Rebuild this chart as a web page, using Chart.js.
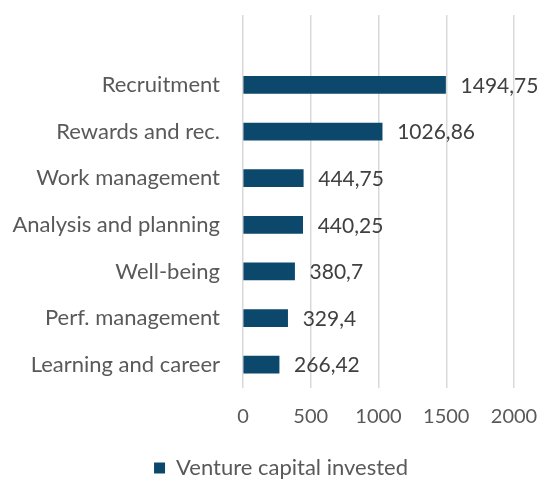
<!DOCTYPE html>
<html>
<head>
<meta charset="utf-8">
<script src="https://cdn.jsdelivr.net/npm/chart.js@4.4.1/dist/chart.umd.min.js"></script>
<style>
  html, body { margin: 0; padding: 0; background: #ffffff; }
  #wrap { width: 543px; height: 482px; }
</style>
</head>
<body>
<div id="wrap"><canvas id="c" width="543" height="482"></canvas></div>
<script>
const categories = ['Recruitment', 'Rewards and rec.', 'Work management', 'Analysis and planning', 'Well-being', 'Perf. management', 'Learning and career'];
const ventureCapital = [1494.75, 1026.86, 444.75, 440.25, 380.7, 329.4, 266.42];
const xTicks = [0, 500, 1000, 1500, 2000];
const seriesName = 'Venture capital invested';

const FONT = 'Lato, "Open Sans", sans-serif';
const BAR = '#0B486B';

const valueLabels = {
  id: 'valueLabels',
  afterDatasetsDraw(chart) {
    const ctx = chart.ctx;
    const meta = chart.getDatasetMeta(0);
    ctx.save();
    ctx.font = '21px ' + FONT;
    ctx.fillStyle = '#404040';
    ctx.textAlign = 'left';
    ctx.textBaseline = 'middle';
    meta.data.forEach((el, i) => {
      const v = chart.data.datasets[0].data[i];
      if (v === null || v === undefined) return;
      ctx.fillText(String(v).replace('.', ','), el.x + 15, el.y + 1);
    });
    ctx.restore();
  }
};

const legendShift = {
  id: 'legendShift',
  afterLayout(chart) {
    const lg = chart.legend;
    if (!lg) return;
    lg.left += 24; lg.right += 24;
    lg.top += 9; lg.bottom += 9;
  }
};

new Chart(document.getElementById('c'), {
  type: 'bar',
  data: {
    labels: [''].concat(categories),
    datasets: [{
      label: seriesName,
      data: [null].concat(ventureCapital),
      backgroundColor: BAR,
      borderWidth: 0,
      barThickness: 17
    }]
  },
  options: {
    indexAxis: 'y',
    responsive: false,
    animation: false,
    layout: { padding: { top: 15, right: 29, left: 0, bottom: 2 } },
    plugins: {
      legend: {
        position: 'bottom',
        labels: {
          boxWidth: 11, boxHeight: 11, color: '#595959',
          font: { family: FONT, size: 22 }, padding: 8
        }
      },
      tooltip: { enabled: false }
    },
    scales: {
      x: {
        min: xTicks[0], max: xTicks[xTicks.length - 1],
        afterBuildTicks(scale) { scale.ticks = xTicks.map(v => ({ value: v })); },
        grid: { color: '#d9d9d9', lineWidth: 1.5, drawTicks: false },
        border: { display: false },
        ticks: {
          color: '#595959', font: { family: FONT, size: 20 }, padding: 17,
          callback: (v) => String(v)
        },
        afterFit(scale) { scale.height = 52; scale.paddingLeft = 0; scale.paddingRight = 0; }
      },
      y: {
        grid: { display: false },
        border: { display: false },
        ticks: { color: '#595959', font: { family: FONT, size: 22 }, padding: 15, autoSkip: false },
        afterFit(scale) { scale.width = 243; scale.paddingTop = 0; scale.paddingBottom = 0; }
      }
    }
  },
  plugins: [valueLabels, legendShift]
});
</script>
</body>
</html>
